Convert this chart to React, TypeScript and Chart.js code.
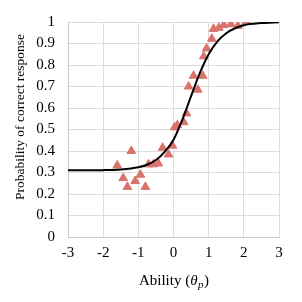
import React, { useEffect, useRef } from "react";
import { Chart, registerables } from "chart.js";

Chart.register(...registerables);

const pointX = [-1.6, -1.43, -1.31, -1.2, -1.09, -0.94, -0.8, -0.71, -0.57, -0.43, -0.31, -0.14, -0.03, 0.03, 0.11, 0.29, 0.37, 0.43, 0.57, 0.69, 0.83, 0.86, 0.94, 1.09, 1.14, 1.29, 1.43, 1.63, 1.83, 2.06];
const pointY = [0.333, 0.274, 0.233, 0.4, 0.26, 0.29, 0.233, 0.338, 0.338, 0.342, 0.415, 0.384, 0.425, 0.51, 0.52, 0.534, 0.575, 0.7, 0.75, 0.685, 0.75, 0.84, 0.877, 0.922, 0.968, 0.973, 0.986, 0.99, 0.982, 1.0];

const curveX = [-3, -2, -1.5, -1, -0.75, -0.5, -0.25, 0, 0.25, 0.5, 0.75, 1, 1.25, 1.5, 1.75, 2, 2.5, 3];
const curveY = [0.31, 0.311, 0.314, 0.324, 0.336, 0.358, 0.396, 0.452, 0.545, 0.655, 0.763, 0.85, 0.91, 0.948, 0.971, 0.985, 0.995, 0.999];

const xTicks = [-3, -2, -1, 0, 1, 2, 3];
const yTicks = [0, 0.1, 0.2, 0.3, 0.4, 0.5, 0.6, 0.7, 0.8, 0.9, 1];

const xTitleMain = "Ability (";
const xTitleTheta = "θ";
const xTitleSub = "p";
const xTitleEnd = ")";
const yTitle = "Probability of correct response";

const FONT = "'Liberation Serif', 'Times New Roman', serif";

const titlePlugin = {
  id: "customTitles",
  afterDraw(chart: any) {
    const ctx = chart.ctx;
    ctx.save();
    ctx.fillStyle = "#000";
    ctx.textBaseline = "alphabetic";
    const size = 15;
    const normal = `${size}px ${FONT}`;
    const italic = `italic ${size}px ${FONT}`;
    const sub = `italic ${Math.round(size * 0.7)}px ${FONT}`;
    ctx.font = normal;
    const w1 = ctx.measureText(xTitleMain).width;
    const w4 = ctx.measureText(xTitleEnd).width;
    ctx.font = italic;
    const w2 = ctx.measureText(xTitleTheta).width;
    ctx.font = sub;
    const w3 = ctx.measureText(xTitleSub).width;
    const total = w1 + w2 + w3 + w4;
    const cx = (chart.chartArea.left + chart.chartArea.right) / 2;
    let x = cx - total / 2;
    const y = 285;
    ctx.font = normal;
    ctx.fillText(xTitleMain, x, y);
    x += w1;
    ctx.font = italic;
    ctx.fillText(xTitleTheta, x, y);
    x += w2 + 0.5;
    ctx.font = sub;
    ctx.fillText(xTitleSub, x, y + 3);
    x += w3 + 0.5;
    ctx.font = normal;
    ctx.fillText(xTitleEnd, x, y);

    ctx.translate(24, 117);
    ctx.rotate(-Math.PI / 2);
    ctx.font = `13.5px ${FONT}`;
    ctx.textAlign = "center";
    ctx.fillText(yTitle, 0, 0);
    ctx.restore();
  },
};

export default function App() {
  const ref = useRef<HTMLCanvasElement>(null);
  useEffect(() => {
    document.body.style.margin = "0";
    const canvas = ref.current!;
    const chart = new Chart(canvas, {
      type: "scatter",
      data: {
        datasets: [
          {
            type: "line",
            data: curveX.map((x, i) => ({ x, y: curveY[i] })),
            borderColor: "#000",
            borderWidth: 2,
            pointRadius: 0,
            cubicInterpolationMode: "monotone",
            fill: false,
          } as any,
          {
            type: "scatter",
            data: pointX.map((x, i) => ({ x, y: pointY[i] })),
            pointStyle: "triangle",
            pointRadius: 5,
            backgroundColor: "#d9736b",
            borderColor: "#d9736b",
            borderWidth: 1,
          } as any,
        ],
      },
      options: {
        animation: false,
        responsive: false,
        layout: { padding: { top: 10, right: 23, bottom: 0, left: 0 } },
        plugins: { legend: { display: false }, tooltip: { enabled: false } },
        scales: {
          x: {
            type: "linear",
            min: -3,
            max: 3,
            afterBuildTicks: (s: any) => {
              s.ticks = xTicks.map((v) => ({ value: v }));
            },
            afterFit: (s: any) => {
              s.height = 65;
            },
            ticks: { color: "#000", font: { family: FONT, size: 15 }, padding: 7, callback: (v: any) => String(v) },
            grid: { color: "#dcdcdc", lineWidth: 1, drawTicks: false },
            border: { color: "#c8c8c8" },
          },
          y: {
            type: "linear",
            min: 0,
            max: 1,
            afterBuildTicks: (s: any) => {
              s.ticks = yTicks.map((v) => ({ value: v }));
            },
            afterFit: (s: any) => {
              s.width = 68;
            },
            ticks: { color: "#000", font: { family: FONT, size: 15 }, padding: 13, callback: (v: any) => String(v) },
            grid: { color: "#dcdcdc", lineWidth: 1, drawTicks: false },
            border: { color: "#c8c8c8" },
          },
        },
      } as any,
      plugins: [titlePlugin],
    });
    return () => chart.destroy();
  }, []);
  return (
    <div style={{ width: 302, height: 302, background: "#fff" }}>
      <canvas ref={ref} width={302} height={302} />
    </div>
  );
}
